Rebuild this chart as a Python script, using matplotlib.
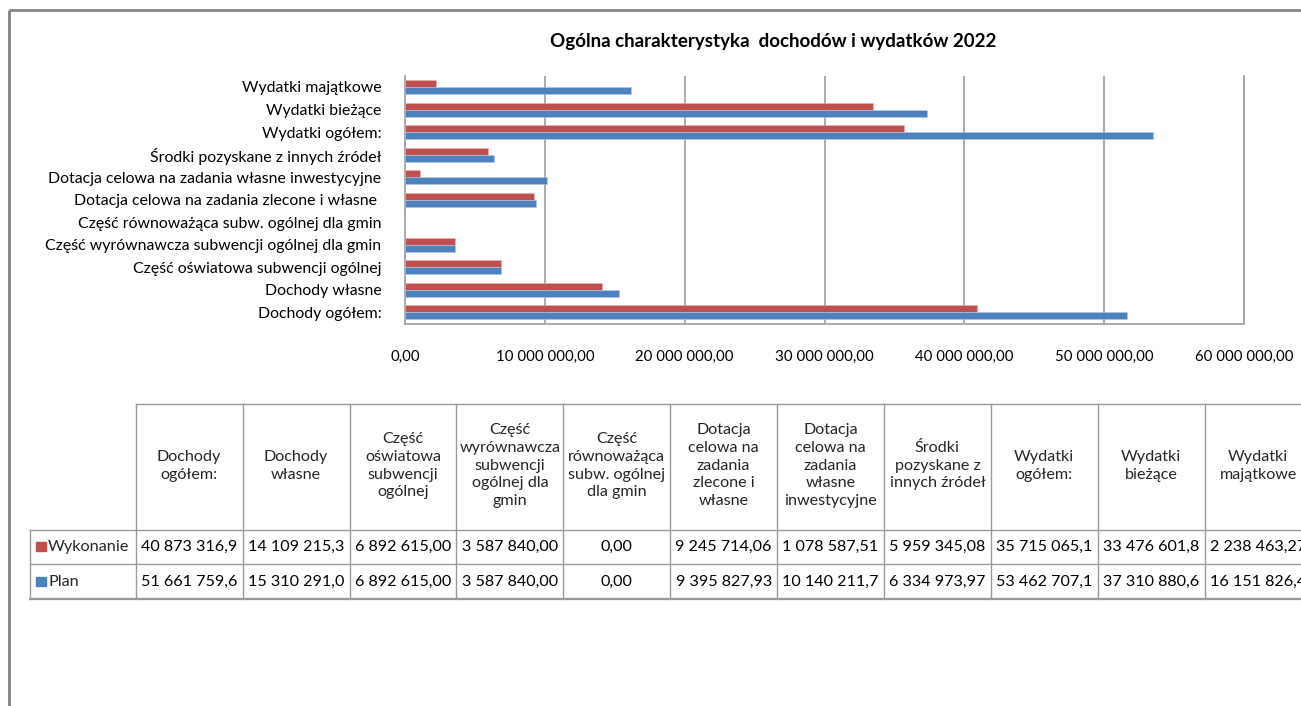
import matplotlib
matplotlib.use("Agg")
import matplotlib.pyplot as plt
from matplotlib.patches import Rectangle
from matplotlib.ticker import FuncFormatter
import numpy as np

# ---------------- data ----------------
title = "Ogólna charakterystyka  dochodów i wydatków 2022"
categories = [
    "Dochody ogółem:",
    "Dochody własne",
    "Część oświatowa subwencji ogólnej",
    "Część wyrównawcza subwencji ogólnej dla gmin",
    "Część równoważąca subw. ogólnej dla gmin",
    "Dotacja celowa na zadania zlecone i własne ",
    "Dotacja celowa na zadania własne inwestycyjne",
    "Środki pozyskane z innych źródeł",
    "Wydatki ogółem:",
    "Wydatki bieżące",
    "Wydatki majątkowe",
]
header_labels = [
    "Dochody\nogółem:",
    "Dochody\nwłasne",
    "Część\noświatowa\nsubwencji\nogólnej",
    "Część\nwyrównawcza\nsubwencji\nogólnej dla\ngmin",
    "Część\nrównoważąca\nsubw. ogólnej\ndla gmin",
    "Dotacja\ncelowa na\nzadania\nzlecone i\nwłasne",
    "Dotacja\ncelowa na\nzadania\nwłasne\ninwestycyjne",
    "Środki\npozyskane z\ninnych źródeł",
    "Wydatki\nogółem:",
    "Wydatki\nbieżące",
    "Wydatki\nmajątkowe",
]
series_names = ["Wykonanie", "Plan"]
wykonanie = [40873316.9, 14109215.3, 6892615.00, 3587840.00, 0.00, 9245714.06,
             1078587.51, 5959345.08, 35715065.1, 33476601.8, 2238463.27]
plan = [51661759.6, 15310291.0, 6892615.00, 3587840.00, 0.00, 9395827.93,
        10140211.7, 6334973.97, 53462707.1, 37310880.6, 16151826.4]
x_ticks = [0, 10000000, 20000000, 30000000, 40000000, 50000000, 60000000]

RED = "#C0504D"
BLUE = "#4F81BD"
GRID = "#A6A6A6"
TABLE_LINE = "#9A9A9A"

plt.rcParams['font.family'] = ['Lato', 'DejaVu Sans']


def fmt_pl(v, dec=2):
    s = f"{v:,.{dec}f}"
    return s.replace(",", " ").replace(".", ",")


def cell_fmt(v):
    return fmt_pl(v, 1 if v >= 1e7 else 2)


W, H = 1301, 706
fig = plt.figure(figsize=(W / 100, H / 100), dpi=100)

# title
fig.text(773 / W, 1 - 42 / H, title, ha='center', va='center',
         fontsize=13.5, fontweight='bold', color='#000000')

# ---------------- bar chart ----------------
left, right, top, bottom = 405, 1244, 75.7, 323.7
ax = fig.add_axes([left / W, 1 - bottom / H, (right - left) / W, (bottom - top) / H])
y = np.arange(len(categories))
bh = 0.31
ax.barh(y + bh / 2, wykonanie, height=bh, color=RED, edgecolor='#E8B4B3', linewidth=0.4, zorder=3)
ax.barh(y - bh / 2, plan, height=bh, color=BLUE, edgecolor='#B3C8E3', linewidth=0.4, zorder=3)
ax.set_xlim(x_ticks[0], x_ticks[-1])
ax.set_ylim(-0.5, len(categories) - 0.5)
ax.set_xticks(x_ticks)
ax.xaxis.set_major_formatter(FuncFormatter(lambda v, p: fmt_pl(v, 2)))
ax.set_yticks(y)
ax.set_yticklabels(categories, fontsize=11.4)
ax.tick_params(axis='x', length=0, pad=19, labelsize=10.8)
ax.tick_params(axis='y', length=0, pad=17)
ax.xaxis.grid(True, color=GRID, linewidth=1.3, zorder=0)
ax.set_axisbelow(True)
ax.spines['top'].set_visible(False)
for s in ['left', 'bottom', 'right']:
    ax.spines[s].set_color(GRID)
    ax.spines[s].set_linewidth(1.3)
ax.set_facecolor('white')

# ---------------- data table + frame (pixel overlay) ----------------
ov = fig.add_axes([0, 0, 1, 1], zorder=5)
ov.set_xlim(0, W)
ov.set_ylim(H, 0)
ov.axis('off')
ov.patch.set_alpha(0)

# outer chart frame (left and top visible)
ov.plot([9, 9], [10, H], color='#858585', lw=2.0, solid_capstyle='butt')
ov.plot([9, W], [10, 10], color='#858585', lw=2.0, solid_capstyle='butt')

col_x0, col_w = 135.7, 106.9
t_top, t_hdr, t_r1, t_r2 = 404, 529.5, 564, 599
leg_x = 30
ncol = len(categories)

ov.plot([col_x0, W], [t_top, t_top], color=TABLE_LINE, lw=1.0)
for yy in (t_hdr, t_r1):
    ov.plot([leg_x, W], [yy, yy], color=TABLE_LINE, lw=1.0)
ov.plot([leg_x, W], [t_r2, t_r2], color=TABLE_LINE, lw=1.6)
ov.plot([leg_x, leg_x], [t_hdr, t_r2], color=TABLE_LINE, lw=1.0)
for k in range(ncol + 1):
    xx = col_x0 + k * col_w
    ov.plot([xx, xx], [t_top, t_r2], color=TABLE_LINE, lw=1.0)

for k, lab in enumerate(header_labels):
    cx = col_x0 + (k + 0.5) * col_w
    ov.text(cx, (t_top + t_hdr) / 2 - 1, lab, ha='center', va='center',
            fontsize=11.6, linespacing=1.33, color='#262626')

rows = [(wykonanie, RED, series_names[0], (t_hdr + t_r1) / 2),
        (plan, BLUE, series_names[1], (t_r1 + t_r2) / 2)]
for vals, col, name, cy in rows:
    ov.add_patch(Rectangle((36, cy - 5), 10, 9, color=col))
    ov.text(48, cy, name, ha='left', va='center', fontsize=11.7, color='#262626')
    for k, v in enumerate(vals):
        cx = col_x0 + (k + 0.5) * col_w
        ov.text(cx, cy, cell_fmt(v), ha='center', va='center',
                fontsize=11.6, color='#000000')

fig.savefig("out.png", dpi=100, facecolor='white')
